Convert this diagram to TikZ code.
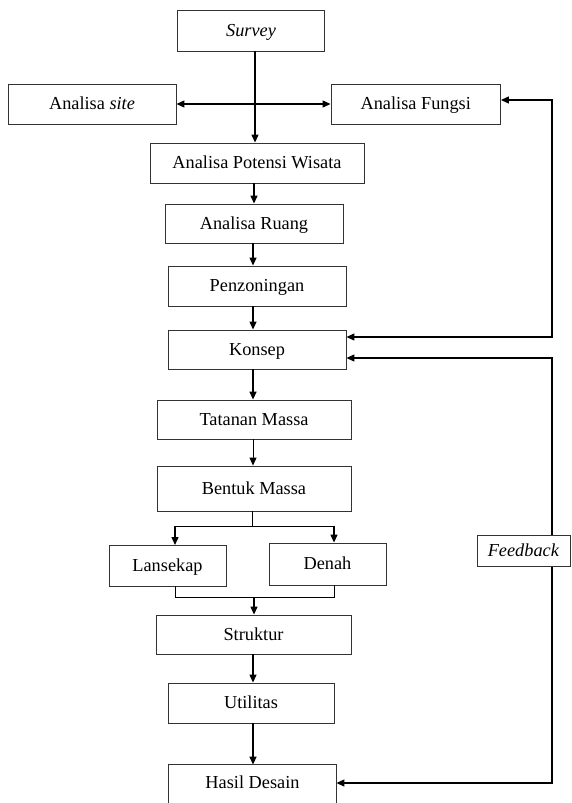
\documentclass[tikz,border=0pt]{standalone}
\usepackage{fontspec}
\setmainfont{Liberation Serif}
\usetikzlibrary{arrows.meta}
\begin{document}
\begin{tikzpicture}[x=1pt,y=-1pt,
  box/.style={draw=black!80,line width=0.9pt,rectangle,inner sep=0pt,text height=14pt,text depth=3pt,font=\fontsize{18.3}{22}\selectfont},
  arr/.style={line width=1.3pt,-{Triangle[length=8pt,width=7pt]}},
  darr/.style={line width=1.3pt,{Triangle[length=8pt,width=7pt]}-{Triangle[length=8pt,width=7pt]}},
  ln/.style={line width=1pt}]
\useasboundingbox (0,0) rectangle (572,803);
\node[box,minimum width=146.5,minimum height=41] (survey) at (251,30.5) {\textit{Survey}};
\node[box,minimum width=168,minimum height=40] (site) at (92,104) {Analisa \textit{site}};
\node[box,minimum width=169.5,minimum height=40] (fungsi) at (415.75,104) {Analisa Fungsi};
\node[box,minimum width=214,minimum height=40] (potensi) at (257,163) {Analisa Potensi Wisata};
\node[box,minimum width=178,minimum height=39] (ruang) at (254,223.5) {Analisa Ruang};
\node[box,minimum width=178,minimum height=40] (zon) at (257,286) {Penzoningan};
\node[box,minimum width=178,minimum height=39] (konsep) at (257,349.5) {Konsep};
\node[box,minimum width=194,minimum height=39] (tatanan) at (254,419.5) {Tatanan Massa};
\node[box,minimum width=194,minimum height=45] (bentuk) at (254,488.5) {Bentuk Massa};
\node[box,minimum width=117,minimum height=41] (lansekap) at (167.5,565.5) {Lansekap};
\node[box,minimum width=117,minimum height=42] (denah) at (327.5,564) {Denah};
\node[box,minimum width=195,minimum height=39] (struktur) at (253.5,634.5) {Struktur};
\node[box,minimum width=166,minimum height=40] (util) at (251,703) {Utilitas};
\node[box,draw=none,minimum width=167,minimum height=36] (hasil) at (252.5,783) {Hasil Desain};
\draw[draw=black!80,line width=0.9pt] ([yshift=-40pt]hasil.south west) -- (hasil.north west) -- (hasil.north east) -- ([yshift=-40pt]hasil.south east);
% coordinates
\coordinate (s1) at (255,104);
\coordinate (r1) at (552,100);
\coordinate (r2) at (552,337);
\coordinate (r3) at (552,358);
\coordinate (r4) at (552,783);
\coordinate (b1) at (252,526);
\coordinate (b2) at (254,597);
% main flow
\draw[arr] (survey.south -| s1) -- (potensi.north -| s1);
\draw[darr] (site.east |- s1) -- (fungsi.west |- s1);
\draw[arr] (potensi.south -| ruang) -- (ruang.north);
\draw[arr] (ruang.south -| 253,0) -- (zon.north -| 253,0);
\draw[arr] (zon.south -| 253,0) -- (konsep.north -| 253,0);
\draw[arr,line width=1.6pt] (konsep.south -| 253,0) -- (tatanan.north -| 253,0);
\draw[arr,line width=1pt] (tatanan.south -| 253,0) -- (bentuk.north -| 253,0);
\draw[ln] (bentuk.south -| b1) -- (b1);
\draw[arr] (b1 -| 175,0) -- (175,545) ;
\draw[ln] (175,526) -- (334,526);
\draw[arr] (334,526) -- (denah.north -| 334,0);
\draw[ln] (lansekap.south -| 175,0) -- (175,597) -- (334,597) -- (denah.south -| 334,0);
\draw[arr] (b2) -- (struktur.north -| b2);
\draw[arr] (struktur.south -| 253,0) -- (util.north -| 253,0);
\draw[arr,line width=1.6pt] (util.south -| 253,0) -- (hasil.north -| 253,0);
% feedback loops
\draw[darr] (r1 -| fungsi.east) -- (r1) -- (r2) -- (r2 -| konsep.east);
\draw[darr] (r3 -| konsep.east) -- (r3) -- (r4) -- (r4 -| hasil.east);
\node[box,fill=white,minimum width=93,minimum height=31] (feedback) at (523.5,550.5) {\textit{Feedback}};
\end{tikzpicture}
\end{document}
